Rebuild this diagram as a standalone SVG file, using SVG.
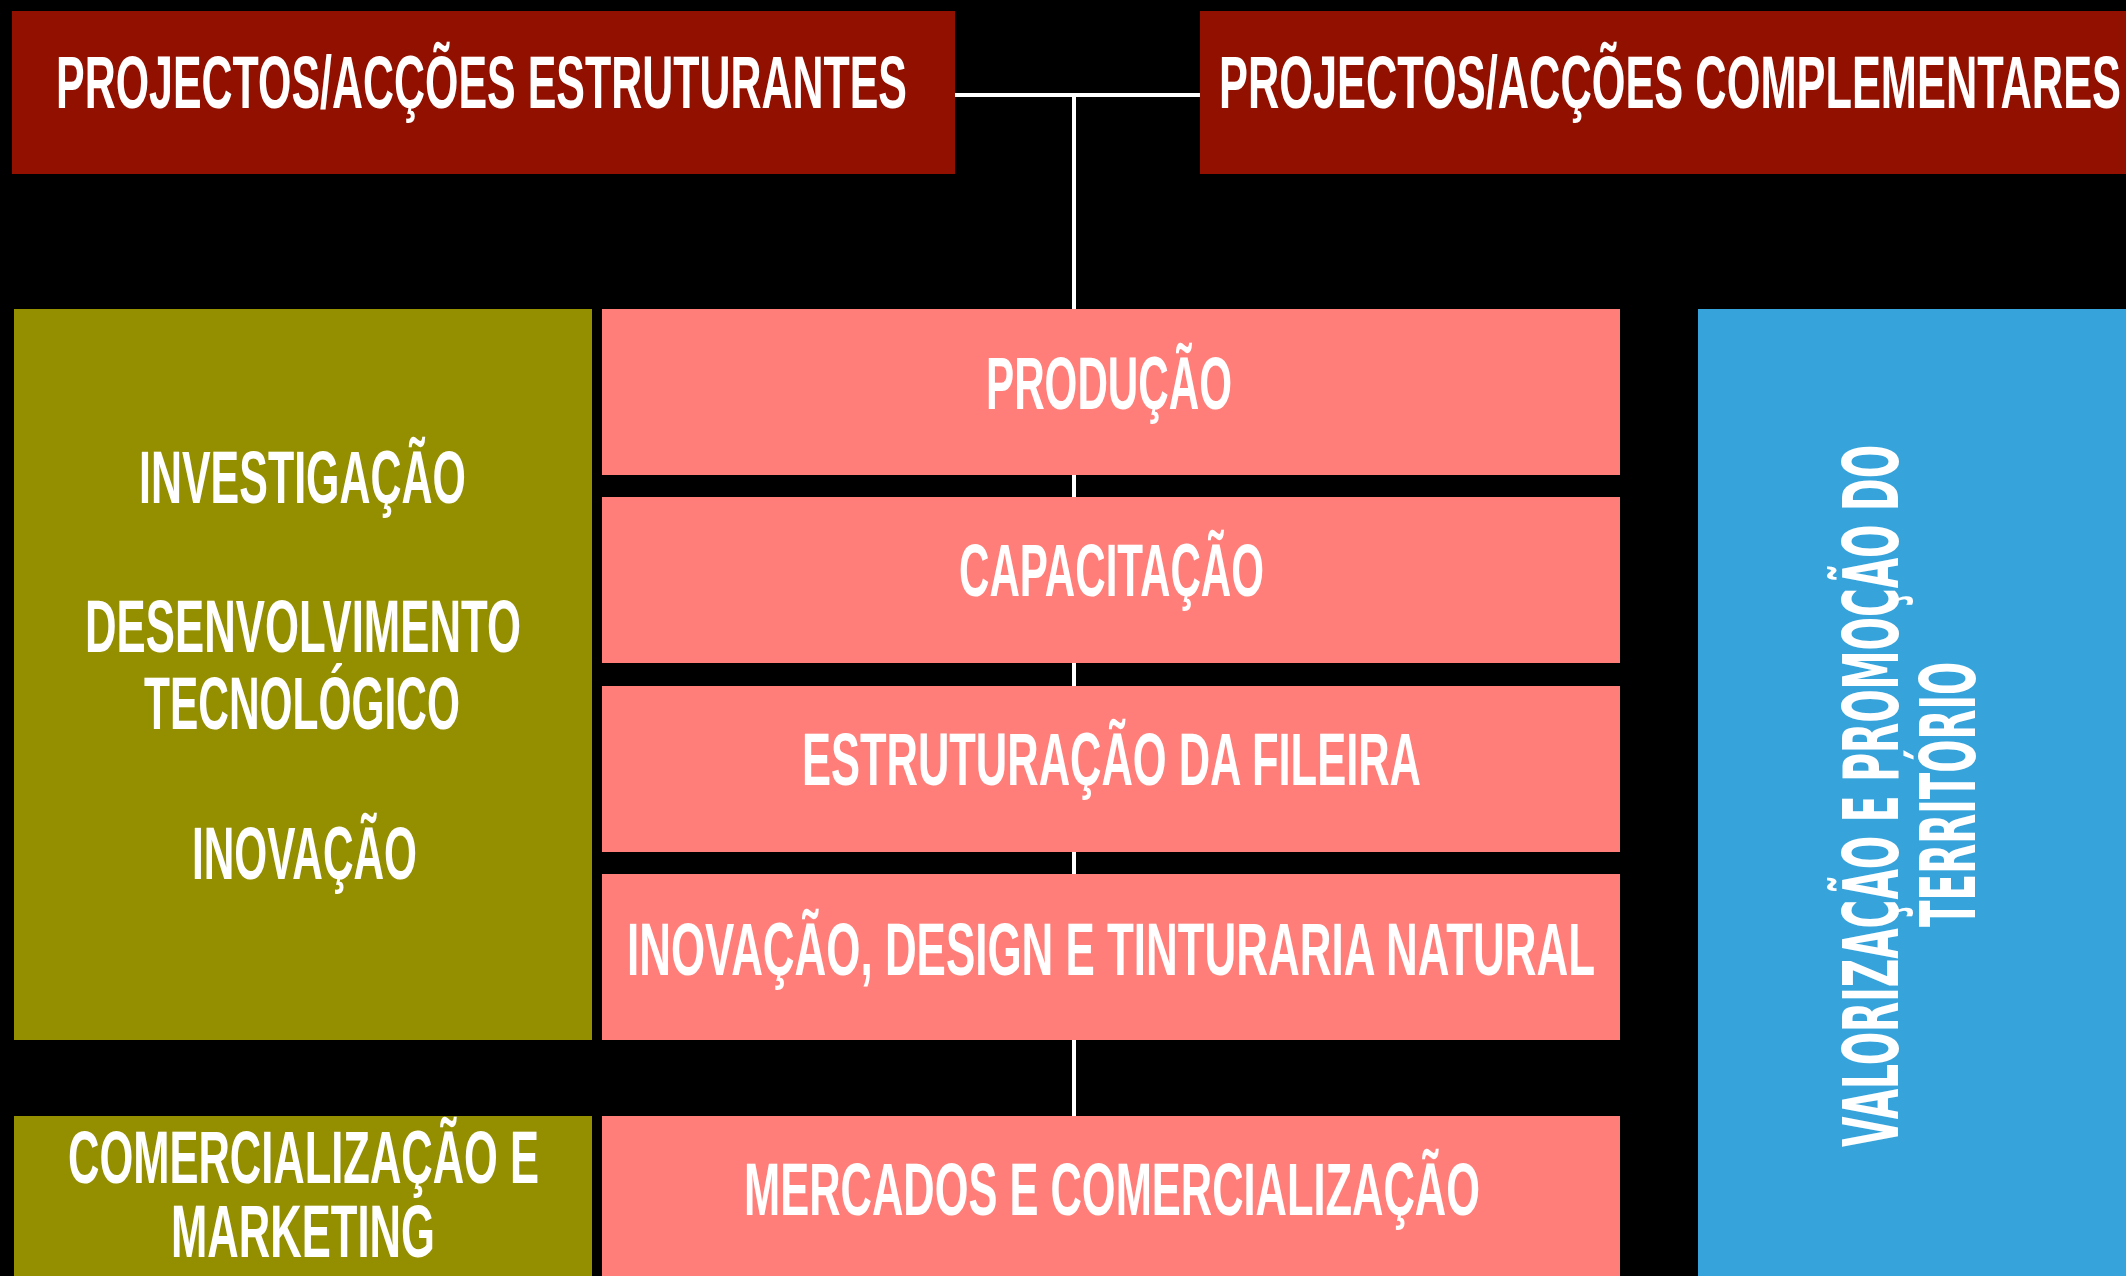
<svg xmlns="http://www.w3.org/2000/svg" width="2126" height="1276" viewBox="0 0 2126 1276">
<style>
.t{font-family:"Liberation Sans Narrow","Liberation Sans",Arial,sans-serif;font-weight:bold;font-size:74px;fill:#ffffff}
.v{font-family:"DejaVu Sans","Liberation Sans",sans-serif;font-weight:bold;font-size:76px;fill:#ffffff}
.red{fill:#921000}
.olive{fill:#948F00}
.pink{fill:#FF7E79}
.blue{fill:#36A3DA}
.conn{stroke:#ffffff;stroke-width:4;fill:none}
</style>
<rect x="0" y="0" width="2126" height="1276" fill="#000000"/>
<g id="connectors">
<line class="conn" x1="955" y1="95" x2="1200" y2="95"/>
<line class="conn" x1="1074" y1="95" x2="1074" y2="1116"/>
</g>
<g id="estruturantes">
<rect class="red" x="12" y="11" width="943" height="163"/>
<text class="t" x="56" y="108" textLength="851" lengthAdjust="spacingAndGlyphs">PROJECTOS/ACÇÕES ESTRUTURANTES</text>
</g>
<g id="complementares">
<rect class="red" x="1200" y="11" width="926" height="163"/>
<text class="t" x="1219" y="108" textLength="902" lengthAdjust="spacingAndGlyphs">PROJECTOS/ACÇÕES COMPLEMENTARES</text>
</g>
<g id="investigacao">
<rect class="olive" x="14" y="309" width="578" height="731"/>
<text class="t" x="139" y="503" textLength="327" lengthAdjust="spacingAndGlyphs">INVESTIGAÇÃO</text>
<text class="t" x="85" y="652" textLength="436" lengthAdjust="spacingAndGlyphs">DESENVOLVIMENTO</text>
<text class="t" x="144" y="729" textLength="316" lengthAdjust="spacingAndGlyphs">TECNOLÓGICO</text>
<text class="t" x="192" y="879" textLength="225" lengthAdjust="spacingAndGlyphs">INOVAÇÃO</text>
</g>
<g id="comercializacao">
<rect class="olive" x="14" y="1116" width="578" height="160"/>
<text class="t" x="68" y="1183" textLength="471" lengthAdjust="spacingAndGlyphs">COMERCIALIZAÇÃO E</text>
<text class="t" x="171" y="1257" textLength="264" lengthAdjust="spacingAndGlyphs">MARKETING</text>
</g>
<g id="producao">
<rect class="pink" x="602" y="309" width="1018" height="166"/>
<text class="t" x="986" y="409" textLength="246" lengthAdjust="spacingAndGlyphs">PRODUÇÃO</text>
</g>
<g id="capacitacao">
<rect class="pink" x="602" y="497" width="1018" height="166"/>
<text class="t" x="959" y="596" textLength="305" lengthAdjust="spacingAndGlyphs">CAPACITAÇÃO</text>
</g>
<g id="estruturacao">
<rect class="pink" x="602" y="686" width="1018" height="166"/>
<text class="t" x="802" y="785" textLength="619" lengthAdjust="spacingAndGlyphs">ESTRUTURAÇÃO DA FILEIRA</text>
</g>
<g id="inovacao-design">
<rect class="pink" x="602" y="874" width="1018" height="166"/>
<text class="t" x="627" y="975" textLength="968" lengthAdjust="spacingAndGlyphs">INOVAÇÃO, DESIGN E TINTURARIA NATURAL</text>
</g>
<g id="mercados">
<rect class="pink" x="602" y="1116" width="1018" height="160"/>
<text class="t" x="744" y="1215" textLength="736" lengthAdjust="spacingAndGlyphs">MERCADOS E COMERCIALIZAÇÃO</text>
</g>
<g id="valorizacao">
<rect class="blue" x="1698" y="309" width="428" height="967"/>
<g transform="translate(1898,796) rotate(-90)">
<text class="v" x="-351" y="0" textLength="702" lengthAdjust="spacingAndGlyphs">VALORIZAÇÃO E PROMOÇÃO DO</text>
<text class="v" x="-131" y="77" textLength="265" lengthAdjust="spacingAndGlyphs">TERRITÓRIO</text>
</g>
</g>
</svg>
